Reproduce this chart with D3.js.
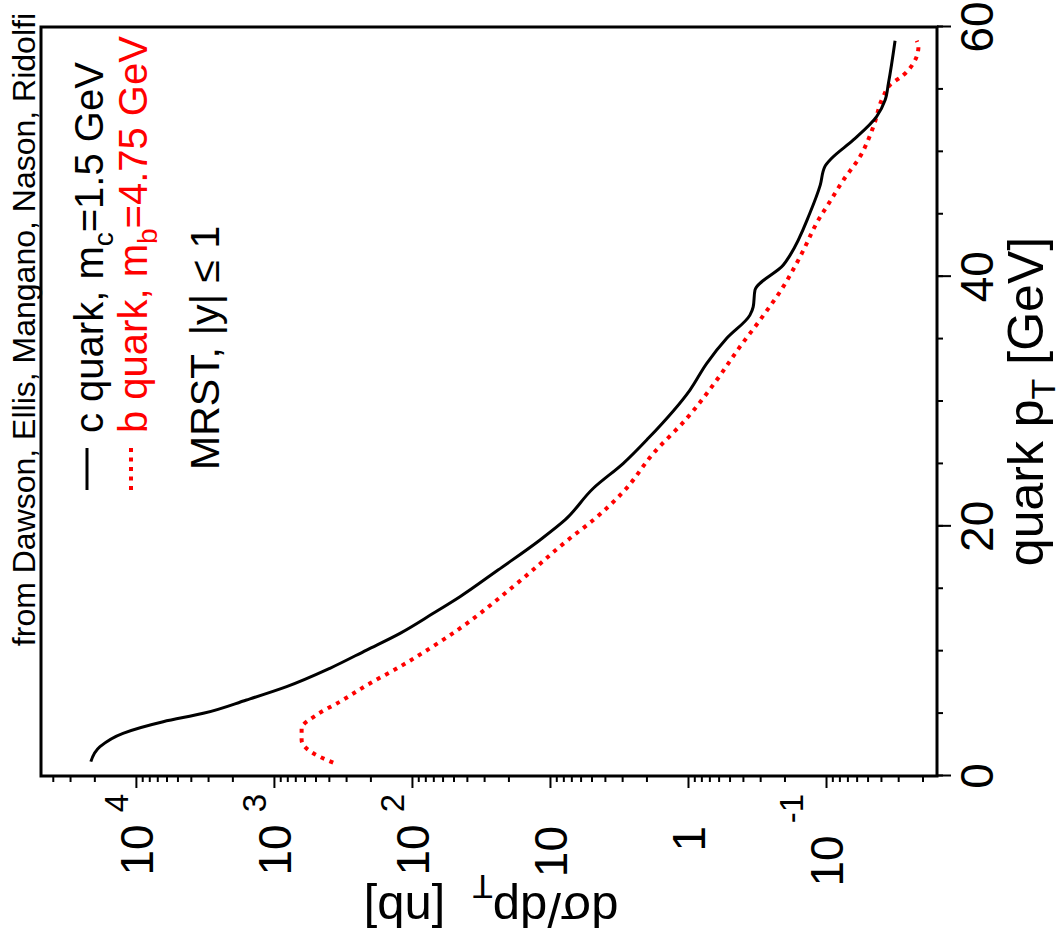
<!DOCTYPE html>
<html>
<head>
<meta charset="utf-8">
<script src="https://cdn.jsdelivr.net/npm/d3@7"></script>
<style>
  body { margin: 0; background: #fff; }
  text { font-family: 'Liberation Sans', Arial, Helvetica, sans-serif; }
</style>
</head>
<body>
<svg id="chart" width="1064" height="947"></svg>
<script>
// c quark, m_c = 1.5 GeV  (pT in GeV, dsigma/dpT in nb)
const pTc = [1.15, 2.35, 3.42, 4.35, 5.02, 6.09, 7.16, 8.63, 10.09, 11.43, 13.03, 14.36, 16.5, 18.91,
  20.51, 23.05, 25.05, 27.05, 30.92, 33.06, 35.06, 36.92, 37.58, 38.93, 40.93, 41.73, 45.08, 47.35,
  48.81, 49.48, 50.95, 52.82, 54.15, 55.49, 58.9];
const sigmaC = [21200, 18200, 12400, 6340, 3250, 1580, 809, 393, 213, 122, 70.1, 44.9, 23.8, 11.8,
  7.78, 4.85, 2.94, 1.94, 0.968, 0.731, 0.524, 0.356, 0.337, 0.327, 0.204, 0.182, 0.131, 0.110,
  0.102, 0.091, 0.0634, 0.043, 0.0373, 0.0353, 0.0316];

// b quark, m_b = 4.75 GeV
const pTb = [1.07, 1.82, 2.88, 3.82, 4.89, 5.95, 7.43, 8.76, 10.23, 11.83, 15.3, 19.04, 20.51, 22.77,
  25.85, 28.65, 31.72, 34.39, 36.52, 39.2, 41.6, 44.8, 45.6, 47.74, 49.61, 52.01, 54.42, 55.35,
  56.15, 57.09, 58.42, 58.9];
const sigmaB = [372, 519, 630, 630, 491, 333, 201, 122, 74.1, 44.9, 17.9, 7.16, 4.85, 2.94,
  1.78, 1.02, 0.619, 0.42, 0.301, 0.204, 0.154, 0.110, 0.0989, 0.0748, 0.0568, 0.0454, 0.0385, 0.0344,
  0.0275, 0.0233, 0.0214, 0.022];

const xMajorTicks = [0, 20, 40, 60];
const xMinorTicks = [0, 5, 10, 15, 20, 25, 30, 35, 40, 45, 50, 55, 60];
const yMajorTicks = [10000, 1000, 100, 10, 1, 0.1];
const yTickBase = ['10', '10', '10', '10', '1', '10'];
const yTickExp = ['4', '3', '2', '', '', '-1'];

const titleText = 'from Dawson, Ellis, Mangano, Nason, Ridolfi';
const legendNames = ['c quark, m', 'b quark, m'];
const legendSubs = ['c', 'b'];
const legendTails = ['=1.5 GeV', '=4.75 GeV'];
const noteText = 'MRST, |y| \u2264 1';

const style = {
  black: '#000',
  red: '#ff0000',
  lineWidth: 3,
  frameWidth: 3,
  tickWidth: 2,
  dots: '4,5.5'
};

// the whole figure is drawn upright, then turned a quarter turn anticlockwise
const W = 749, H = 896;
const svg = d3.select('#chart');
const main = svg.append('g').attr('transform', 'translate(41,776) rotate(-90)');

const x = d3.scaleLinear().domain([0, 60]).range([0, W]);
const y = d3.scaleLog().domain([0.0157, 48700]).range([H, 0]);

// minor log ticks 2..9 of each decade inside the domain
const yMinorTicks = [];
for (let e = -2; e <= 4; e++) {
  for (let k = 2; k <= 9; k++) {
    const v = k * Math.pow(10, e);
    if (v >= y.domain()[0] && v <= y.domain()[1]) yMinorTicks.push(v);
  }
}

function styleAxis(sel) {
  sel.select('.domain').remove();
  sel.selectAll('.tick line').attr('stroke', style.black).attr('stroke-width', style.tickWidth);
  sel.selectAll('.tick text').remove();
}

main.append('g').attr('transform', `translate(0,${H})`)
  .call(d3.axisBottom(x).tickValues(xMinorTicks).tickSize(6)).call(styleAxis);
main.append('g').attr('transform', `translate(0,${H})`)
  .call(d3.axisBottom(x).tickValues(xMajorTicks).tickSize(14)).call(styleAxis);
main.append('g')
  .call(d3.axisLeft(y).tickValues(yMinorTicks).tickSize(6)).call(styleAxis);
main.append('g')
  .call(d3.axisLeft(y).tickValues(yMajorTicks).tickSize(12)).call(styleAxis);

// pT tick labels
main.append('g').selectAll('text')
  .data(xMajorTicks).enter().append('text')
  .attr('x', d => x(d))
  .attr('y', H + 56)
  .attr('text-anchor', 'middle')
  .attr('font-size', 46)
  .text(d => d);

// log tick labels with exponents
const yLab = main.append('g').selectAll('text')
  .data(yMajorTicks).enter().append('text')
  .attr('text-anchor', 'end')
  .attr('font-size', 46)
  .attr('x', (d, i) => yTickExp[i] ? -18 : -50)
  .attr('y', d => y(d) + 17);
yLab.append('tspan').text((d, i) => yTickBase[i]);
yLab.filter((d, i) => yTickExp[i])
  .append('tspan')
  .attr('font-size', 33)
  .attr('dx', 12)
  .attr('dy', d => d < 1 ? -40 : -25)
  .text(d => yTickExp[yMajorTicks.indexOf(d)]);

// axis titles
const xTitle = main.append('text')
  .attr('x', W / 2)
  .attr('y', H + 106)
  .attr('text-anchor', 'middle')
  .attr('font-size', 50);
xTitle.append('tspan').text('quark p');
xTitle.append('tspan').attr('font-size', 34).attr('dy', 12).text('T');
xTitle.append('tspan').attr('dy', -12).text(' [GeV]');

const yTitle = main.append('text')
  .attr('transform', `translate(-117,${H / 2 + 2}) rotate(-90)`)
  .attr('text-anchor', 'middle')
  .attr('font-size', 49)
  .style('white-space', 'pre');
yTitle.append('tspan').text('d\u03c3/dp');
yTitle.append('tspan').attr('font-size', 33).attr('dy', 18).text('T');
yTitle.append('tspan').attr('dy', -18).text('  [nb]');

// curves
const lineGen = d3.line()
  .curve(d3.curveMonotoneX)
  .x(d => x(d[0]))
  .y(d => y(d[1]));

main.append('path')
  .datum(pTb.map((p, i) => [p, sigmaB[i]]))
  .attr('d', lineGen)
  .attr('fill', 'none')
  .attr('stroke', style.red)
  .attr('stroke-width', 4)
  .attr('stroke-dasharray', style.dots);

main.append('path')
  .datum(pTc.map((p, i) => [p, sigmaC[i]]))
  .attr('d', lineGen)
  .attr('fill', 'none')
  .attr('stroke', style.black)
  .attr('stroke-width', style.lineWidth)
  .attr('stroke-linejoin', 'round');

// frame
main.append('rect')
  .attr('width', W).attr('height', H)
  .attr('fill', 'none')
  .attr('stroke', style.black)
  .attr('stroke-width', style.frameWidth);

// title above the frame
main.append('text')
  .attr('x', 763)
  .attr('y', -6)
  .attr('text-anchor', 'end')
  .attr('font-size', 32)
  .text(titleText);

// legend
const legendColors = [style.black, style.red];
const legendRows = [62, 106];
legendNames.forEach((name, i) => {
  main.append('line')
    .attr('x1', 286).attr('x2', 328)
    .attr('y1', legendRows[i] - 16).attr('y2', legendRows[i] - 16)
    .attr('stroke', legendColors[i])
    .attr('stroke-width', i ? 4 : style.lineWidth)
    .attr('stroke-dasharray', i ? style.dots : null);
  const t = main.append('text')
    .attr('x', 343)
    .attr('y', legendRows[i])
    .attr('font-size', 40)
    .attr('fill', legendColors[i]);
  t.append('tspan').text(name);
  t.append('tspan').attr('font-size', 28).attr('dy', 10).text(legendSubs[i]);
  t.append('tspan').attr('dy', -10).text(legendTails[i]);
});

main.append('text')
  .attr('x', 306)
  .attr('y', 178)
  .attr('font-size', 41)
  .text(noteText);
</script>
</body>
</html>
